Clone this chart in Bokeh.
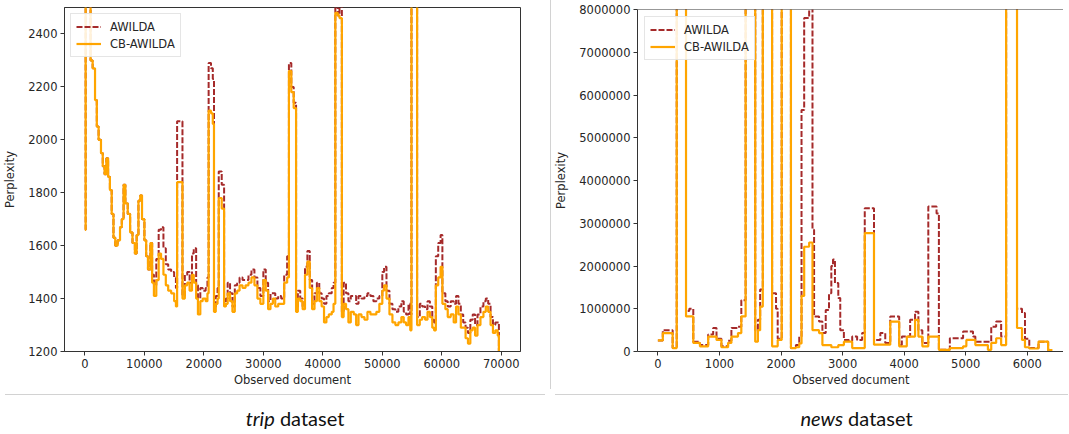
from bokeh.plotting import figure
from bokeh.models import ColumnDataSource, Legend, LegendItem, Div, Span, NumeralTickFormatter, FixedTicker, Range1d
from bokeh.layouts import row, column
from bokeh.embed import file_html
from bokeh.resources import INLINE

# ---------------- data ----------------
trip_doc = [0, 120, 950, 1300, 1700, 2000, 2300, 2700, 3000, 3300, 3600, 3900, 4200, 4500, 4800, 5100,
            5500, 5900, 6200, 6500, 6800, 7200, 7600, 8000, 8400, 8700, 9000, 9300, 9600, 10000, 10300,
            10600, 11000, 11300, 11600, 12000, 12400, 12800, 13200, 13600, 14000, 14500, 15000, 15300,
            15500, 16400, 16800, 17200, 17600, 18000, 18300, 18700, 19000, 19400, 19800, 20300, 20600,
            20800, 21200, 21500, 21700, 22000, 22300, 22500, 23000, 23400, 23700, 24000, 24400, 24800,
            25200, 25600, 26000, 26500, 27000, 27500, 28000, 28500, 29000, 29500, 30000, 30400, 30800,
            31200, 31600, 32000, 32500, 33000, 33500, 34000, 34300, 34700, 35100, 35500, 35800, 36200,
            36600, 37000, 37400, 37800, 38200, 38600, 39000, 39400, 39800, 40200, 40600, 41000, 41500,
            41800, 42100, 42500, 42800, 43200, 43500, 43900, 44300, 44700, 45200, 45600, 46000, 46500,
            47000, 47500, 48000, 48500, 49000, 49500, 50000, 50300, 50700, 51200, 51700, 52200, 52700,
            53200, 53600, 54000, 54400, 54700, 54900, 55850, 56300, 56700, 57200, 57600, 58000, 58400,
            58700, 59000, 59400, 59800, 60100, 60600, 61000, 61500, 62000, 62400, 62800, 63200, 63600,
            64000, 64400, 64800, 65200, 65600, 66000, 66500, 67000, 67400, 67800, 68200, 68600, 69000,
            69400, 69600]
trip_cb = [1660, 2700, 2300, 2270, 2150, 2050, 2000, 1950, 1900, 1870, 1930, 1860, 1810, 1720, 1630, 1600,
           1620, 1670, 1700, 1830, 1760, 1720, 1650, 1610, 1570, 1640, 1770, 1790, 1700, 1620, 1560,
           1510, 1610, 1460, 1410, 1470, 1570, 1550, 1490, 1450, 1430, 1420, 1390, 1370,
           1840, 1400, 1450, 1460, 1430, 1490, 1460, 1400, 1340, 1390, 1400, 1390, 1420,
           2110, 2100, 2060, 1350, 1380, 1400, 1780, 1740, 1370, 1380, 1420, 1390, 1350,
           1420, 1430, 1450, 1440, 1450, 1460, 1480, 1450, 1400, 1380, 1470, 1430, 1360,
           1380, 1400, 1370, 1380, 1380, 1460, 1480, 2260, 2180, 2120, 1350, 1400, 1390,
           1360, 1490, 1540, 1440, 1360, 1390, 1440, 1390, 1370, 1310, 1330, 1340, 1350,
           1380, 2480, 2470, 2460, 1330, 1380, 1360, 1310, 1350, 1340, 1300, 1340, 1330,
           1320, 1350, 1340, 1340, 1350, 1380, 1430, 1450, 1400, 1340, 1310, 1300, 1310,
           1330, 1310, 1300, 1330, 1280, 2700, 1300, 1320, 1330, 1320, 1350, 1330, 1290,
           1280, 1450, 1480, 1520, 1380, 1360, 1330, 1340, 1310, 1370, 1340, 1290, 1290,
           1250, 1230, 1280, 1290, 1260, 1300, 1330, 1350, 1370, 1350, 1300, 1270, 1280,
           1260, 1150]
trip_awilda = [1660, 2700, 2300, 2270, 2150, 2050, 2000, 1950, 1900, 1870, 1930, 1860, 1810, 1720, 1630, 1600,
               1620, 1670, 1700, 1830, 1760, 1720, 1650, 1610, 1570, 1640, 1770, 1790, 1700, 1620, 1560,
               1510, 1610, 1490, 1450, 1550, 1660, 1670, 1590, 1530, 1510, 1500, 1480, 1440,
               2070, 1410, 1490, 1500, 1460, 1570, 1590, 1450, 1400, 1440, 1430, 1440, 1480,
               2290, 2270, 2230, 1360, 1410, 1440, 1880, 1830, 1380, 1400, 1460, 1420, 1370,
               1450, 1460, 1480, 1470, 1470, 1490, 1510, 1480, 1440, 1410, 1510, 1460, 1390,
               1420, 1420, 1400, 1410, 1400, 1490, 1560, 2290, 2200, 2140, 1360, 1430, 1400,
               1370, 1520, 1580, 1470, 1380, 1420, 1460, 1420, 1400, 1380, 1410, 1420, 1440,
               1460, 2600, 2470, 2600, 1350, 1460, 1420, 1390, 1410, 1410, 1380, 1410, 1400,
               1410, 1420, 1410, 1390, 1400, 1410, 1500, 1520, 1430, 1380, 1360, 1350, 1370,
               1390, 1350, 1340, 1380, 1340, 2700, 1330, 1380, 1370, 1360, 1390, 1370, 1320,
               1310, 1560, 1610, 1640, 1420, 1390, 1370, 1390, 1380, 1410, 1380, 1340, 1310,
               1290, 1270, 1320, 1340, 1300, 1340, 1370, 1390, 1400, 1380, 1330, 1300, 1310,
               1310, 1150]

news_doc = [0, 65, 80, 210, 240, 306, 457, 510, 575, 683, 817, 898, 952, 1032, 1140, 1194, 1301, 1355,
            1425, 1581, 1624, 1661, 1704, 1855, 1919, 1946, 2011, 2161, 2242, 2296, 2333, 2376, 2457,
            2511, 2537, 2618, 2672, 2726, 2779, 2817, 2844, 2876, 2930, 2962, 3021, 3102, 3156, 3236,
            3317, 3360, 3510, 3613, 3693, 3774, 3919, 3962, 4043, 4097, 4177, 4231, 4295, 4392, 4526,
            4564, 4742, 4957, 5010, 5118, 5156, 5360, 5414, 5494, 5575, 5656, 5833, 5914, 5962, 6032,
            6182, 6338, 6408]
news_cb = [260000, 260000, 430000, 430000, 80000, 12000000, 820000, 820000, 200000, 120000, 350000,
           350000, 270000, 100000, 200000, 350000, 430000, 820000, 12000000, 230000, 500000, 1050000,
           12000000, 120000, 120000, 270000, 12000000, 80000, 100000, 190000, 1300000, 2450000, 2550000,
           500000, 500000, 430000, 150000, 150000, 150000, 100000, 100000, 100000, 150000, 150000,
           230000, 230000, 80000, 80000, 80000, 2770000, 160000, 160000, 160000, 700000, 120000, 120000,
           350000, 350000, 740000, 350000, 120000, 350000, 350000, 40000, 80000, 120000, 270000, 270000,
           150000, 40000, 200000, 310000, 150000, 12000000, 550000, 270000, 100000, 70000, 230000,
           30000, 30000]
news_awilda = [260000, 260000, 500000, 500000, 80000, 12000000, 950000, 1000000, 230000, 150000, 400000,
               550000, 300000, 120000, 250000, 550000, 580000, 1200000, 12000000, 500000, 740000, 1450000,
               12000000, 1360000, 1000000, 300000, 12000000, 80000, 150000, 350000, 5650000, 7800000,
               8100000, 2850000, 820000, 700000, 430000, 970000, 1360000, 2000000, 2150000, 1600000,
               1250000, 500000, 270000, 250000, 350000, 270000, 430000, 3350000, 270000, 430000, 200000,
               820000, 150000, 350000, 350000, 740000, 930000, 500000, 200000, 3390000, 3230000, 40000,
               310000, 470000, 470000, 350000, 230000, 230000, 580000, 700000, 350000, 12000000, 1000000,
               900000, 300000, 80000, 230000, 30000, 30000]

series_names = ["AWILDA", "CB-AWILDA"]
trip_xticks = [0, 10000, 20000, 30000, 40000, 50000, 60000, 70000]
trip_yticks = [1200, 1400, 1600, 1800, 2000, 2200, 2400]
news_xticks = [0, 1000, 2000, 3000, 4000, 5000, 6000]
news_yticks = [0, 1000000, 2000000, 3000000, 4000000, 5000000, 6000000, 7000000, 8000000]
captions = ["<i>trip</i> dataset", "<i>news</i> dataset"]

RED = "#a52a2a"
ORANGE = "#ffa500"
TXT = "#262626"
FONT = "DejaVu Sans"


def style(p):
    p.background_fill_color = "white"
    p.border_fill_color = "white"
    p.xgrid.visible = False
    p.ygrid.visible = False
    for ax in (p.xaxis[0], p.yaxis[0]):
        ax.axis_line_color = "#333333"
        ax.major_tick_line_color = "#333333"
        ax.minor_tick_line_color = None
        ax.major_tick_out = 4
        ax.major_tick_in = 0
        ax.major_label_text_font = FONT
        ax.major_label_text_font_size = "11.5px"
        ax.major_label_text_color = TXT
        ax.axis_label_text_font = FONT
        ax.axis_label_text_font_size = "11.5px"
        ax.axis_label_text_font_style = "normal"
        ax.axis_label_text_color = TXT
        ax.major_label_standoff = 3
    p.xaxis.axis_label_standoff = 2
    p.yaxis.axis_label_standoff = 8


def add_lines(p, xs, ya, yc, margin):
    src = ColumnDataSource(dict(x=xs, a=ya, c=yc))
    r1 = p.step("x", "a", source=src, mode="after", line_color=RED, line_width=2, line_dash="6 2")
    r2 = p.step("x", "c", source=src, mode="after", line_color=ORANGE, line_width=2.2)
    leg = Legend(items=[LegendItem(label=series_names[0], renderers=[r1]),
                        LegendItem(label=series_names[1], renderers=[r2])],
                 location="top_left")
    leg.margin = margin
    leg.padding = 5
    leg.spacing = 2
    leg.glyph_width = 25
    leg.glyph_height = 15
    leg.label_height = 15
    leg.label_standoff = 9
    leg.label_text_font = FONT
    leg.label_text_font_size = "11.5px"
    leg.label_text_color = TXT
    leg.border_line_color = "#cccccc"
    leg.background_fill_alpha = 0.85
    p.add_layout(leg)


# ---------------- left: trip ----------------
p1 = figure(width=540, height=389, output_backend="svg", toolbar_location=None,
            x_range=Range1d(-3433, 73233), y_range=Range1d(1200, 2500),
            min_border_left=60, min_border_right=20, min_border_top=7, min_border_bottom=38)
style(p1)
p1.outline_line_color = "#333333"
p1.xaxis.ticker = FixedTicker(ticks=trip_xticks)
p1.yaxis.ticker = FixedTicker(ticks=trip_yticks)
p1.xaxis.axis_label = "Observed document"
p1.yaxis.axis_label = "Perplexity"
add_lines(p1, trip_doc, trip_awilda, trip_cb, 6)

# ---------------- right: news ----------------
p2 = figure(width=513, height=389, output_backend="svg", toolbar_location=None,
            x_range=Range1d(-331, 6604), y_range=Range1d(0, 8000000),
            min_border_left=83, min_border_right=0, min_border_top=9, min_border_bottom=37,
            styles={"border-left": "1px solid #d2d2d2"})
style(p2)
p2.outline_line_color = None
p2.add_layout(Span(location=8000000, dimension="width", line_color="#333333", line_width=1))
p2.xaxis.ticker = FixedTicker(ticks=news_xticks)
p2.yaxis.ticker = FixedTicker(ticks=news_yticks)
p2.yaxis.formatter = NumeralTickFormatter(format="0")
p2.xaxis.axis_label = "Observed document"
p2.yaxis.axis_label = "Perplexity"
add_lines(p2, news_doc, news_awilda, news_cb, 7)

cap_style = {"border-top": "1px solid #d2d2d2", "text-align": "center", "font-family": "Lato",
             "font-size": "20px", "color": "#111111", "padding-top": "9px", "box-sizing": "border-box"}
d1 = Div(text=captions[0], width=540, height=45, styles=dict(cap_style, **{"padding-left": "40px"}))
d2 = Div(text=captions[1], width=513, height=45, styles=dict(cap_style, **{"padding-left": "90px"}))

layout = row(column(p1, d1, spacing=0), column(p2, d2, spacing=0), spacing=0)

open("out.html", "w").write(file_html(layout, INLINE))
